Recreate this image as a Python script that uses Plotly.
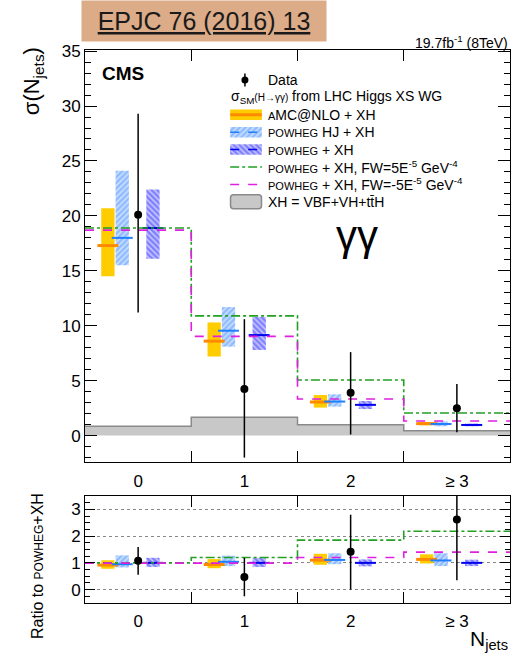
import plotly.graph_objects as go

# ---------------- data ----------------
NJ = [0, 1, 2, 3]
NJ_LABELS = ["0", "1", "2", "≥ 3"]
EDGES = [-0.5, 0.5, 1.5, 2.5, 3.5]

DATA = [20.1, 4.25, 3.9, 2.5]
DATA_LO = [11.2, -2.0, 0.1, 0.3]
DATA_HI = [29.3, 10.6, 7.6, 4.7]

AMC_C = [17.3, 8.6, 3.06, 1.09]
AMC_LO = [14.5, 7.2, 2.55, 0.94]
AMC_HI = [20.7, 10.3, 3.7, 1.24]
HJ_C = [18.0, 9.55, 3.1, 1.06]
HJ_LO = [15.5, 8.1, 2.64, 0.85]
HJ_HI = [24.1, 11.7, 3.76, 1.30]
PW_C = [18.9, 9.15, 2.8, 0.97]
PW_LO = [16.1, 7.8, 2.42, 0.85]
PW_HI = [22.4, 10.8, 3.15, 1.09]
FW_P = [18.9, 10.9, 5.06, 2.06]
FW_M = [18.7, 9.03, 3.33, 1.33]
XH = [0.85, 1.67, 1.0, 0.45]

# ratio to POWHEG+XH
R_DATA = [1.08, 0.47, 1.42, 2.62]
R_DATA_LO = [0.56, -0.25, 0.00, 0.35]
R_DATA_HI = [1.59, 1.19, 2.80, 4.85]
R_AMC_C = [0.92, 0.94, 1.10, 1.13]
R_AMC_LO = [0.78, 0.80, 0.93, 0.98]
R_AMC_HI = [1.10, 1.14, 1.34, 1.32]
R_HJ_C = [0.95, 1.04, 1.11, 1.09]
R_HJ_LO = [0.83, 0.88, 0.95, 0.88]
R_HJ_HI = [1.28, 1.27, 1.36, 1.36]
R_PW_C = [1.0, 1.0, 1.0, 1.0]
R_PW_LO = [0.85, 0.85, 0.87, 0.88]
R_PW_HI = [1.19, 1.18, 1.13, 1.12]
R_FW_P = [1.0, 1.2, 1.85, 2.18]
R_FW_M = [0.99, 0.99, 1.2, 1.40]

Y_TICKS = [0, 5, 10, 15, 20, 25, 30, 35]
R_TICKS = [0, 1, 2, 3]

LEGEND_TEXT = [
    "Data",
    "σ<sub>SM</sub><span style='font-size:10px'>(H→γγ)</span> from LHC Higgs XS WG",
    "<span style='font-size:11px'>A</span>MC@NLO + XH",
    "<span style='font-size:11px'>POWHEG</span> HJ + XH",
    "<span style='font-size:11px'>POWHEG</span> + XH",
    "<span style='font-size:11px'>POWHEG</span> + XH, FW=5E<sup>-5</sup> GeV<sup>-4</sup>",
    "<span style='font-size:11px'>POWHEG</span> + XH, FW=-5E<sup>-5</sup> GeV<sup>-4</sup>",
    "XH = VBF+VH+tt\u0304H",
]

# ---------------- styles ----------------
FONT = "Liberation Sans, Arial, Helvetica, sans-serif"
C_AMC, C_AMC_L = "#ffcc00", "#ff8a00"
C_HJ, C_HJ_L, C_HJ_BG = "#4d94ff", "#1f7fff", "#d2e4ff"
C_PW, C_PW_L, C_PW_BG = "#3333ff", "#0000ee", "#cfcfff"
C_FWP, C_FWM = "#22a022", "#e020e0"
C_XH, C_XH_L = "#c8c8c8", "#8a8a8a"

OFF_AMC, OFF_HJ, OFF_PW = -0.347, -0.212, 0.077
BW = 0.125
PAT_SIZE, PAT_SOL = 4, 0.65

fig = go.Figure()


def step(vals):
    return vals + [vals[-1]]


def pattern_marker(color, pattern, bg):
    if pattern is None:
        return dict(color=color, line=dict(width=0))
    return dict(color="white", line=dict(width=0),
                pattern=dict(shape=pattern, fgcolor=color, bgcolor=bg,
                             size=PAT_SIZE, solidity=PAT_SOL))


def add_boxes(xa, ya, lo, hi, cen, off, color, pattern, bg, line_color, lw):
    fig.add_trace(go.Bar(
        x=NJ, y=[h - l for h, l in zip(hi, lo)], base=lo,
        offset=off, width=BW, xaxis=xa, yaxis=ya,
        marker=pattern_marker(color, pattern, bg),
        showlegend=False, hoverinfo="skip"))
    fig.add_trace(go.Scatter(
        x=[n + off + BW / 2 for n in NJ], y=cen, mode="markers",
        xaxis=xa, yaxis=ya,
        marker=dict(symbol="line-ew", size=15, line=dict(width=lw, color=line_color)),
        showlegend=False, hoverinfo="skip"))


def add_steps(xa, ya, vals, color, dash):
    fig.add_trace(go.Scatter(
        x=EDGES, y=step(vals), mode="lines", line_shape="hv",
        line=dict(color=color, width=1.6, dash=dash),
        xaxis=xa, yaxis=ya, showlegend=False, hoverinfo="skip"))


def add_data(xa, ya, v, lo, hi):
    fig.add_trace(go.Scatter(
        x=NJ, y=v, mode="markers", xaxis=xa, yaxis=ya,
        marker=dict(color="black", size=8),
        error_y=dict(type="data", symmetric=False,
                     array=[h - c for h, c in zip(hi, v)],
                     arrayminus=[c - l for c, l in zip(v, lo)],
                     color="black", thickness=1.5, width=0),
        showlegend=False, hoverinfo="skip"))


# ---- main panel ----
fig.add_trace(go.Scatter(
    x=EDGES, y=step(XH), mode="lines", line_shape="hv", fill="tozeroy",
    fillcolor=C_XH, line=dict(color=C_XH_L, width=1.5),
    xaxis="x", yaxis="y", showlegend=False, hoverinfo="skip"))
add_boxes("x", "y", AMC_LO, AMC_HI, AMC_C, OFF_AMC, C_AMC, None, None, C_AMC_L, 3)
add_boxes("x", "y", HJ_LO, HJ_HI, HJ_C, OFF_HJ, C_HJ, "/", C_HJ_BG, C_HJ_L, 2)
add_boxes("x", "y", PW_LO, PW_HI, PW_C, OFF_PW, C_PW, "\\", C_PW_BG, C_PW_L, 2)
add_steps("x", "y", FW_P, C_FWP, "dashdot")
add_steps("x", "y", FW_M, C_FWM, "dash")
add_data("x", "y", DATA, DATA_LO, DATA_HI)

# ---- ratio panel ----
add_boxes("x2", "y2", R_AMC_LO, R_AMC_HI, R_AMC_C, OFF_AMC, C_AMC, None, None, C_AMC_L, 3)
add_boxes("x2", "y2", R_HJ_LO, R_HJ_HI, R_HJ_C, OFF_HJ, C_HJ, "/", C_HJ_BG, C_HJ_L, 2)
add_boxes("x2", "y2", R_PW_LO, R_PW_HI, R_PW_C, OFF_PW, C_PW, "\\", C_PW_BG, C_PW_L, 2)
add_steps("x2", "y2", R_FW_P, C_FWP, "dashdot")
add_steps("x2", "y2", R_FW_M, C_FWM, "dash")
add_data("x2", "y2", R_DATA, R_DATA_LO, R_DATA_HI)

# ---- hand-made legend (swatches on a hidden axis, one row per entry) ----
LX = [0.06, 0.94]
fig.add_trace(go.Scatter(x=[0.47], y=[0], mode="markers", xaxis="x3", yaxis="y3",
                         marker=dict(color="black", size=7),
                         error_y=dict(type="data", array=[0.38], color="black",
                                      thickness=1.5, width=0),
                         showlegend=False, hoverinfo="skip"))
for row, col, pat, bg in [(2, C_AMC, None, None), (3, C_HJ, "/", C_HJ_BG), (4, C_PW, "\\", C_PW_BG)]:
    fig.add_trace(go.Bar(x=[0.5], y=[0.6], base=[row - 0.3], width=0.88,
                         xaxis="x3", yaxis="y3", marker=pattern_marker(col, pat, bg),
                         showlegend=False, hoverinfo="skip"))
fig.add_trace(go.Scatter(x=LX, y=[2, 2], mode="lines", xaxis="x3", yaxis="y3",
                         line=dict(color=C_AMC_L, width=3), showlegend=False, hoverinfo="skip"))
fig.add_trace(go.Scatter(x=LX, y=[3, 3], mode="lines", xaxis="x3", yaxis="y3",
                         line=dict(color=C_HJ_L, width=1.5, dash="dash"), showlegend=False, hoverinfo="skip"))
fig.add_trace(go.Scatter(x=LX, y=[4, 4], mode="lines", xaxis="x3", yaxis="y3",
                         line=dict(color=C_PW_L, width=1.5, dash="dash"), showlegend=False, hoverinfo="skip"))
fig.add_trace(go.Scatter(x=LX, y=[5, 5], mode="lines", xaxis="x3", yaxis="y3",
                         line=dict(color=C_FWP, width=1.5, dash="dashdot"), showlegend=False, hoverinfo="skip"))
fig.add_trace(go.Scatter(x=LX, y=[6, 6], mode="lines", xaxis="x3", yaxis="y3",
                         line=dict(color=C_FWM, width=1.5, dash="dash"), showlegend=False, hoverinfo="skip"))
fig.add_trace(go.Bar(x=[0.5], y=[0.8], base=[7 - 0.4], width=0.86, xaxis="x3", yaxis="y3",
                     marker=dict(color=C_XH, line=dict(width=1.5, color=C_XH_L), cornerradius=3),
                     showlegend=False, hoverinfo="skip"))

annotations = []
for i, txt in enumerate(LEGEND_TEXT):
    annotations.append(dict(
        x=0.3388 if i == 1 else 0.4259, y=i, xref="paper", yref="y3",
        text=txt, showarrow=False, xanchor="left", yanchor="middle",
        font=dict(size=14, color="black", family=FONT)))

annotations += [
    dict(x=0.28, y=1.0524, xref="paper", yref="paper", text="<u>EPJC 76 (2016) 13</u>",
         showarrow=False, xanchor="center", yanchor="middle", bgcolor="#dcab87",
         width=242, height=38, font=dict(size=25, color="#1a1a1a", family=FONT)),
    dict(x=1.0, y=1.0145, xref="paper", yref="paper", text="19.7fb<sup>-1</sup> (8TeV)",
         showarrow=False, xanchor="right", yanchor="middle",
         font=dict(size=14, color="black", family=FONT)),
    dict(x=0.035, y=0.9584, xref="paper", yref="paper", text="<b>CMS</b>",
         showarrow=False, xanchor="left", yanchor="middle",
         font=dict(size=19, color="black", family=FONT)),
    dict(x=0.64, y=0.664, xref="paper", yref="paper", text="γγ",
         showarrow=False, xanchor="center", yanchor="middle",
         font=dict(size=42, color="black", family=FONT)),
    dict(x=-0.122, y=1.009, xref="paper", yref="paper", text="σ(N<sub>jets</sub>)",
         textangle=-90, showarrow=False, xanchor="center", yanchor="top",
         font=dict(size=22, color="black", family=FONT)),
    dict(x=-0.113, y=0.0669, xref="paper", yref="paper",
         text="Ratio to <span style='font-size:12px'>POWHEG</span>+XH",
         textangle=-90, showarrow=False, xanchor="center", yanchor="middle",
         font=dict(size=16, color="black", family=FONT)),
    dict(x=1.0, y=-0.067, xref="paper", yref="paper", text="N<sub>jets</sub>",
         showarrow=False, xanchor="right", yanchor="middle",
         font=dict(size=21, color="black", family=FONT)),
]

xcommon = dict(range=[EDGES[0], EDGES[-1]], tickvals=NJ, ticktext=NJ_LABELS, ticks="",
               showline=True, linecolor="black", linewidth=1, mirror="allticks",
               showgrid=False, zeroline=False,
               minor=dict(tickvals=EDGES[1:-1], ticks="inside", ticklen=11,
                          tickcolor="black", tickwidth=1),
               tickfont=dict(size=17, color="black", family=FONT))

fig.update_layout(
    width=512, height=656,
    margin=dict(l=85, r=2, t=50, b=53),
    paper_bgcolor="white", plot_bgcolor="white",
    barmode="overlay", showlegend=False,
    font=dict(family=FONT, color="black"),
    xaxis=dict(domain=[0, 1], anchor="y", ticklabelstandoff=4, **xcommon),
    yaxis=dict(domain=[0.255, 1], anchor="x", range=[-2.4, 35.1], tickvals=Y_TICKS,
               ticks="inside", ticklen=12, tickcolor="black",
               showline=True, linecolor="black", mirror="allticks",
               showgrid=False, zeroline=False,
               minor=dict(dtick=1, ticks="inside", ticklen=6, tickcolor="black"),
               tickfont=dict(size=17, color="black", family=FONT)),
    xaxis2=dict(domain=[0, 1], anchor="y2", ticklabelstandoff=3, **xcommon),
    yaxis2=dict(domain=[0, 0.1935], anchor="x2", range=[-0.5, 3.5], tickvals=R_TICKS,
                ticks="inside", ticklen=10, tickcolor="black",
                showline=True, linecolor="black", mirror="allticks",
                showgrid=True, gridcolor="#888888", griddash="dot", gridwidth=1,
                zeroline=False,
                minor=dict(dtick=0.25, ticks="inside", ticklen=5, tickcolor="black",
                           showgrid=False),
                tickfont=dict(size=17, color="black", family=FONT)),
    xaxis3=dict(domain=[0.3365, 0.4212], anchor="y3", range=[0, 1], visible=False),
    yaxis3=dict(domain=[0.7098, 0.9615], anchor="x3", range=[7.5, -0.5], visible=False),
    annotations=annotations,
)

fig.write_html("out.html", config={"displayModeBar": False},
               post_script="document.body.style.margin='0';document.body.style.padding='0';")
